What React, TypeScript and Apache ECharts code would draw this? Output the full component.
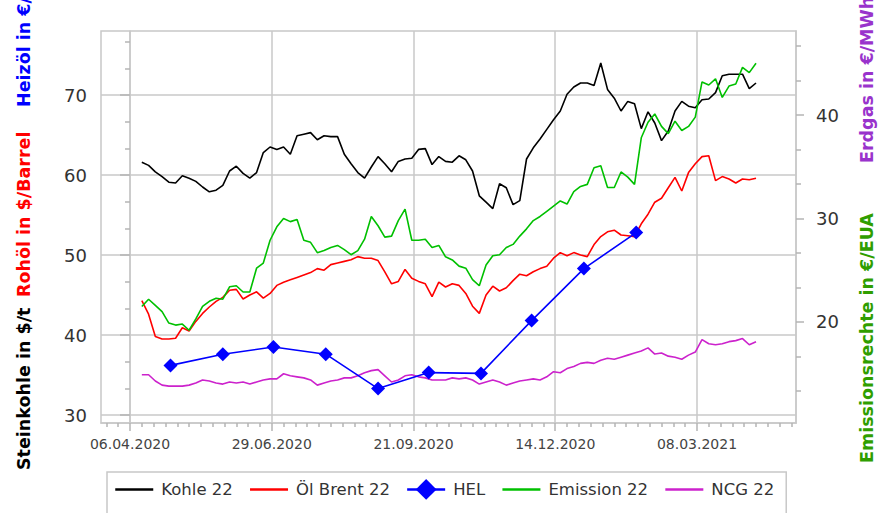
import React, { useEffect, useRef } from 'react';
import * as echarts from 'echarts';

// ---- data ----
const BASE_DATE = '2020-04-06';
const firstSampleDate = '2020-04-13';
const sampleStepDays = 4;

const kohle22 = [
  61.6, 61.2, 60.4, 59.8, 59.1, 59.0, 59.9, 59.6, 59.2, 58.5, 57.9, 58.1, 58.7, 60.5, 61.1, 60.2,
  59.6, 60.3, 62.8, 63.5, 63.2, 63.5, 62.6, 64.9, 65.1, 65.3, 64.4, 64.9, 64.8, 64.8, 62.6, 61.4,
  60.3, 59.6, 61.0, 62.3, 61.4, 60.4, 61.7, 62.0, 62.1, 63.2, 63.3, 61.3, 62.3, 61.7,
  61.6, 62.4, 61.9, 60.5, 57.4, 56.6, 55.8, 58.9, 58.4, 56.3, 56.8, 62.0, 63.4, 64.5, 65.7, 66.9,
  68.0, 70.1, 71.0, 71.5, 71.5, 71.2, 74.0, 70.7, 69.6, 68.0, 69.2, 68.9, 65.8, 67.9, 66.5, 64.3,
  65.5, 68.0, 69.2, 68.6, 68.4, 69.4, 69.5, 70.3, 72.4, 72.6, 72.6, 72.6, 70.8, 71.5,
];
const oelBrent22 = [
  44.3, 42.6, 39.8, 39.5, 39.5, 39.6, 40.9, 40.5, 41.7, 42.7, 43.5, 44.2, 44.7, 45.6, 45.7, 44.5,
  45.0, 45.4, 44.6, 45.2, 46.2, 46.6, 46.9, 47.2, 47.5, 47.8, 48.3, 48.1, 48.8, 49.0, 49.2, 49.4,
  49.8, 49.6, 49.6, 49.3, 47.9, 46.4, 46.7, 48.2, 47.1, 46.7, 46.4, 44.8, 46.6, 46.0,
  46.4, 46.2, 45.2, 43.6, 42.7, 45.0, 46.1, 45.5, 45.9, 46.8, 47.6, 47.4, 47.9, 48.3, 48.6, 49.6,
  50.3, 49.9, 50.3, 50.0, 49.8, 51.3, 52.3, 52.9, 53.1, 52.5, 52.4, 52.3, 53.9, 55.1, 56.6, 57.1,
  58.4, 59.7, 58.0, 60.3, 61.4, 62.3, 62.4, 59.3, 59.8, 59.5, 59.0, 59.5, 59.4, 59.6,
];
const emission22 = [
  21.5, 22.2, 21.6, 21.0, 19.9, 19.7, 19.8, 19.2, 20.3, 21.5, 22.0, 22.3, 22.2, 23.4, 23.5, 22.9,
  22.9, 25.2, 25.7, 27.9, 29.2, 30.0, 29.7, 29.9, 27.9, 27.7, 26.7, 26.9, 27.2, 27.4, 27.0, 26.5,
  26.9, 28.0, 30.2, 29.3, 28.2, 28.3, 29.8, 30.9, 27.9, 27.9, 28.0, 27.2, 27.4, 26.3,
  26.0, 25.4, 25.2, 24.1, 23.5, 25.5, 26.4, 26.5, 27.2, 27.5, 28.3, 29.0, 29.8, 30.2, 30.7, 31.2,
  31.7, 31.4, 32.6, 33.1, 33.3, 34.9, 35.1, 33.0, 33.0, 34.5, 34.0, 33.3, 37.8, 39.3, 40.1, 38.9,
  38.2, 39.4, 38.5, 38.9, 39.8, 43.2, 42.9, 43.5, 41.7, 42.8, 43.0, 44.6, 44.1, 45.0,
];
const ncg22 = [
  14.9, 14.9, 14.3, 13.9, 13.8, 13.8, 13.8, 13.9, 14.1, 14.4, 14.3, 14.1, 14.0, 14.2, 14.1, 14.2,
  14.0, 14.2, 14.4, 14.5, 14.5, 15.0, 14.8, 14.7, 14.6, 14.4, 13.9, 14.1, 14.3, 14.4, 14.6, 14.6,
  14.8, 15.1, 15.3, 15.4, 14.8, 14.2, 14.4, 14.8, 14.9, 14.7, 14.6, 14.4, 14.4, 14.4,
  14.6, 14.5, 14.6, 14.4, 14.0, 14.2, 14.4, 14.2, 13.9, 14.1, 14.3, 14.4, 14.5, 14.4, 14.7, 15.2,
  15.1, 15.5, 15.7, 16.0, 16.1, 16.0, 16.3, 16.5, 16.4, 16.6, 16.8, 17.0, 17.2, 17.5, 16.9, 17.0,
  16.7, 16.6, 16.4, 16.8, 17.1, 18.3, 17.9, 17.8, 17.9, 18.1, 18.2, 18.4, 17.8, 18.1,
];
const helDates = [
  '2020-04-30', '2020-05-31', '2020-06-30', '2020-07-31', '2020-08-31',
  '2020-09-30', '2020-10-31', '2020-11-30', '2020-12-31', '2021-01-31',
];
const helValues = [36.2, 37.6, 38.5, 37.6, 33.3, 35.3, 35.2, 41.8, 48.3, 52.8];

const xTickDates = ['2020-04-06', '2020-06-29', '2020-09-21', '2020-12-14', '2021-03-08'];
const leftTicks = [30, 40, 50, 60, 70];
const rightTicks = [20, 30, 40];

const seriesNames = ['Kohle 22', 'Öl Brent 22', 'HEL', 'Emission 22', 'NCG 22'];

// ---- helpers ----
const DAY = 86400000;
const toUTC = (s: string) => {
  const [y, m, d] = s.split('-').map(Number);
  return Date.UTC(y, m - 1, d);
};
const dayOf = (s: string) => Math.round((toUTC(s) - toUTC(BASE_DATE)) / DAY);
const fmtDay = (v: number) => {
  const dt = new Date(toUTC(BASE_DATE) + Math.round(v) * DAY);
  const p = (n: number) => String(n).padStart(2, '0');
  return `${p(dt.getUTCDate())}.${p(dt.getUTCMonth() + 1)}.${dt.getUTCFullYear()}`;
};
const firstDay = dayOf(firstSampleDate);
const sampleDays = kohle22.map((_, i) => firstDay + i * sampleStepDays);
const pair = (vals: number[]) => vals.map((v, i) => [sampleDays[i], v]);

const xMajor = xTickDates.map(dayOf);
const X_MIN = -17.2;
const X_MAX = 394.7;
const xMinor: number[] = [];
for (let d = -14; d <= X_MAX; d += 7) if (!xMajor.includes(d)) xMinor.push(d);
const L_MIN = 29.0;
const L_MAX = 78.0;
const R_MIN = 10.24;
const R_MAX = 48.12;
const minorOf = (lo: number, hi: number) => {
  const out: number[] = [];
  for (let k = -30; k <= 30; k++) {
    const v = 10 + (10 / 3) * k;
    if (v > lo + 0.01 && v < hi - 0.01 && k % 3 !== 0) out.push(+v.toFixed(4));
  }
  return out;
};
const leftMinor = minorOf(L_MIN, L_MAX);
const rightMinor = minorOf(R_MIN, R_MAX);

const GRID = '#c8c8c8';
const FONT = 'DejaVu Sans';

export default function App() {
  const ref = useRef<HTMLDivElement>(null);
  useEffect(() => {
    if (!ref.current) return;
    const chart = echarts.init(ref.current, null, { renderer: 'svg' });
    const tickStyle = { color: '#b4b4b4', width: 1.5 };
    const nameText = (text: string, x: number, y: number, fill: string) => ({
      type: 'text',
      x,
      y,
      rotation: Math.PI / 2,
      style: {
        text,
        fill,
        fontSize: 17.5,
        fontWeight: 'bold',
        fontFamily: FONT,
        align: 'left',
        verticalAlign: 'middle',
      },
    });
    const lineOnly = (name: string) => ({ name, itemStyle: { opacity: 0 } });
    chart.setOption({
      animation: false,
      backgroundColor: '#ffffff',
      grid: {
        left: 101,
        right: 83,
        top: 31,
        bottom: 90,
        show: true,
        borderColor: GRID,
        borderWidth: 1.5,
      },
      xAxis: [
        {
          type: 'value',
          position: 'bottom',
          min: X_MIN,
          max: X_MAX,
          interval: 84,
          axisLine: { show: true, lineStyle: { color: GRID, width: 1.5 } },
          axisTick: { show: true, customValues: xMajor, length: 8, lineStyle: tickStyle },
          axisLabel: {
            customValues: xMajor,
            formatter: (v: number) => (xMajor.includes(Math.round(v)) ? fmtDay(v) : ''),
            color: '#444',
            fontSize: 14,
            fontFamily: FONT,
            margin: 14,
          },
          splitLine: { show: true, lineStyle: { color: GRID, width: 1.5 } },
        },
        {
          type: 'value',
          position: 'bottom',
          min: X_MIN,
          max: X_MAX,
          axisLine: { show: false },
          axisTick: { show: true, customValues: xMinor, length: 4, lineStyle: tickStyle },
          axisLabel: { show: false },
          splitLine: { show: false },
        },
      ],
      yAxis: [
        {
          type: 'value',
          position: 'left',
          min: L_MIN,
          max: L_MAX,
          interval: 10,
          axisLine: { show: true, lineStyle: { color: GRID, width: 1.5 } },
          axisTick: { show: true, customValues: leftTicks, length: 10, lineStyle: tickStyle },
          axisLabel: {
            customValues: leftTicks,
            formatter: (v: number) => (leftTicks.includes(Math.round(v * 100) / 100) ? String(v) : ''),
            color: '#333',
            fontSize: 18,
            fontFamily: FONT,
            margin: 14,
          },
          splitLine: { show: true, lineStyle: { color: GRID, width: 1.5 } },
        },
        {
          type: 'value',
          position: 'left',
          min: L_MIN,
          max: L_MAX,
          axisLine: { show: false },
          axisTick: { show: true, customValues: leftMinor, length: 5, lineStyle: tickStyle },
          axisLabel: { show: false },
          splitLine: { show: false },
        },
        {
          type: 'value',
          position: 'right',
          min: R_MIN,
          max: R_MAX,
          interval: 10,
          axisLine: { show: true, lineStyle: { color: GRID, width: 1.5 } },
          axisTick: { show: true, customValues: rightTicks, length: 8, lineStyle: tickStyle },
          axisLabel: {
            customValues: rightTicks,
            formatter: (v: number) => (rightTicks.includes(Math.round(v * 100) / 100) ? String(v) : ''),
            color: '#333',
            fontSize: 18,
            fontFamily: FONT,
            margin: 20,
          },
          splitLine: { show: false },
        },
        {
          type: 'value',
          position: 'right',
          min: R_MIN,
          max: R_MAX,
          axisLine: { show: false },
          axisTick: { show: true, customValues: rightMinor, length: 5, lineStyle: tickStyle },
          axisLabel: { show: false },
          splitLine: { show: false },
        },
      ],
      legend: {
        data: [
          lineOnly('Kohle 22'),
          lineOnly('Öl Brent 22'),
          { name: 'HEL' },
          lineOnly('Emission 22'),
          lineOnly('NCG 22'),
        ],
        left: 107,
        top: 472,
        itemWidth: 38,
        itemHeight: 26,
        itemGap: 16,
        padding: [7, 12, 30, 7],
        borderColor: GRID,
        borderWidth: 1.5,
        lineStyle: { width: 2.5 },
        textStyle: { fontSize: 16.5, color: '#333', fontFamily: FONT, padding: [0, 0, 0, 3] },
      },
      graphic: [
        nameText('Steinkohle in $/t', 24, 470, '#000000'),
        nameText('Rohöl in $/Barrel', 24, 297, '#ff0000'),
        nameText('Heizöl in €/100l', 24, 107, '#0000ff'),
        nameText('Emissionsrechte in €/EUA', 867, 463, '#2f9e00'),
        nameText('Erdgas in €/MWh', 867, 163, '#9933cc'),
      ],
      series: [
        {
          name: 'Kohle 22',
          type: 'line',
          xAxisIndex: 0,
          yAxisIndex: 0,
          data: pair(kohle22),
          symbol: 'none',
          lineStyle: { color: '#000000', width: 1.6 },
          itemStyle: { color: '#000000' },
          z: 3,
        },
        {
          name: 'Öl Brent 22',
          type: 'line',
          xAxisIndex: 0,
          yAxisIndex: 0,
          data: pair(oelBrent22),
          symbol: 'none',
          lineStyle: { color: '#ff0000', width: 1.6 },
          itemStyle: { color: '#ff0000' },
          z: 3,
        },
        {
          name: 'HEL',
          type: 'line',
          xAxisIndex: 0,
          yAxisIndex: 0,
          data: helDates.map((d, i) => [dayOf(d), helValues[i]]),
          symbol: 'diamond',
          symbolSize: 14,
          lineStyle: { color: '#0000ff', width: 1.6 },
          itemStyle: { color: '#0000ff' },
          z: 5,
        },
        {
          name: 'Emission 22',
          type: 'line',
          xAxisIndex: 0,
          yAxisIndex: 2,
          data: pair(emission22),
          symbol: 'none',
          lineStyle: { color: '#00c000', width: 1.6 },
          itemStyle: { color: '#00c000' },
          z: 4,
        },
        {
          name: 'NCG 22',
          type: 'line',
          xAxisIndex: 0,
          yAxisIndex: 2,
          data: pair(ncg22),
          symbol: 'none',
          lineStyle: { color: '#cc22cc', width: 1.6 },
          itemStyle: { color: '#cc22cc' },
          z: 3,
        },
      ],
    });
    return () => chart.dispose();
  }, []);
  return (
    <div
      ref={ref}
      style={{ position: 'fixed', left: 0, top: 0, width: 879, height: 513 }}
    />
  );
}
